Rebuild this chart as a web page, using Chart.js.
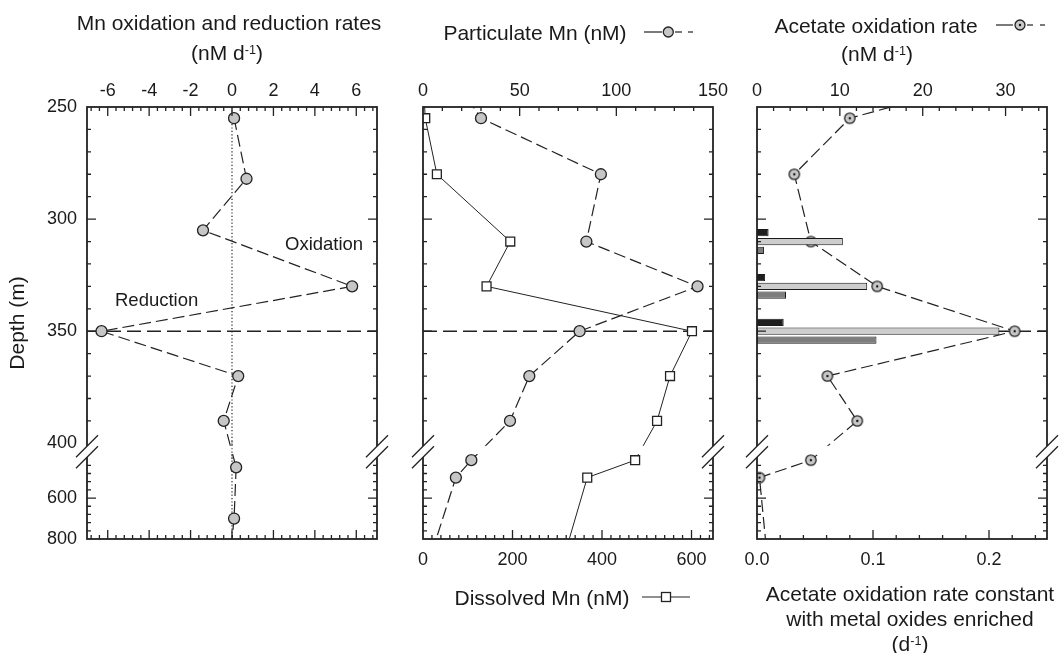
<!DOCTYPE html>
<html>
<head>
<meta charset="utf-8">
<script src="https://cdn.jsdelivr.net/npm/chart.js@4.4.1/dist/chart.umd.min.js"></script>
<style>
  html, body { margin: 0; padding: 0; background: #fff; }
  #wrap { position: relative; width: 1062px; height: 653px; overflow: hidden;
          font-family: "Liberation Sans", Arial, sans-serif; color: #1a1a1a; }
  canvas { position: absolute; top: 0; }
  .lbl { position: absolute; transform: translate(-50%, -50%); white-space: nowrap; font-size: 21px; line-height: 1; }
  .lbl sup { font-size: 0.6em; position: relative; top: -0.45em; vertical-align: baseline; }
  .note { position: absolute; transform: translateY(-50%); white-space: nowrap; font-size: 18.5px; line-height: 1; }
  .sym { position: absolute; }
</style>
</head>
<body>
<div id="wrap">
  <canvas id="c1" width="397" height="653" style="left:0;width:397px;height:653px"></canvas>
  <canvas id="c2" width="336" height="653" style="left:397px;width:336px;height:653px"></canvas>
  <canvas id="c3" width="329" height="653" style="left:733px;width:329px;height:653px"></canvas>

  <div class="lbl" style="left:229px;top:22px">Mn oxidation and reduction rates</div>
  <div class="lbl" style="left:227px;top:52px">(nM d<sup>-1</sup>)</div>
  <div class="lbl" style="left:535px;top:32px">Particulate Mn (nM)</div>
  <div class="lbl" style="left:876px;top:25px">Acetate oxidation rate</div>
  <div class="lbl" style="left:877px;top:53px">(nM d<sup>-1</sup>)</div>
  <div class="lbl" style="left:542px;top:597px">Dissolved Mn (nM)</div>
  <div class="lbl" style="left:910px;top:593px">Acetate oxidation rate constant</div>
  <div class="lbl" style="left:910px;top:618px">with metal oxides enriched</div>
  <div class="lbl" style="left:910px;top:643px">(d<sup>-1</sup>)</div>
  <div class="note" style="left:285px;top:244px">Oxidation</div>
  <div class="note" style="left:115px;top:300px">Reduction</div>

  <svg class="sym" style="left:640px;top:24px" width="56" height="16">
    <line x1="4" y1="8" x2="22" y2="8" stroke="#222" stroke-width="1.2"/>
    <line x1="35" y1="8" x2="42" y2="8" stroke="#222" stroke-width="1.2"/>
    <line x1="48" y1="8" x2="53" y2="8" stroke="#222" stroke-width="1.2"/>
    <circle cx="28.3" cy="8" r="5" fill="#c6c6c6" stroke="#222" stroke-width="1.3"/>
  </svg>
  <svg class="sym" style="left:992px;top:17px" width="56" height="16">
    <line x1="4" y1="8" x2="21" y2="8" stroke="#222" stroke-width="1.2"/>
    <line x1="35" y1="8" x2="41" y2="8" stroke="#222" stroke-width="1.2"/>
    <line x1="48" y1="8" x2="53" y2="8" stroke="#222" stroke-width="1.2"/>
    <circle cx="28" cy="8" r="5" fill="#c8c8c8" stroke="#222" stroke-width="1.3"/>
    <circle cx="28" cy="8" r="1.2" fill="#111"/>
  </svg>
  <svg class="sym" style="left:638px;top:589px" width="56" height="16">
    <line x1="4" y1="8" x2="52" y2="8" stroke="#222" stroke-width="1.2"/>
    <rect x="23.5" y="3.5" width="9" height="9" fill="#fff" stroke="#222" stroke-width="1.3"/>
  </svg>
</div>

<script>
// ---- data (depth in m) ----
// Mn oxidation (+) and reduction (-) rates, nM d-1
var rateDepth = [255, 282, 305, 330, 350, 370, 390, 450, 700, 1000];
var mnRate = [0.1, 0.7, -1.4, 5.8, -6.3, 0.3, -0.4, 0.2, 0.1, -0.2];

// particulate and dissolved Mn, nM
var mnDepth = [240, 255, 280, 310, 330, 350, 370, 390, 415, 500, 1000];
var particulateMn = [18, 30, 92, 84.5, 142, 81, 55, 45, 25, 17, 0];
var dissolvedMn = [1, 5, 31, 195, 142, 601, 552, 523, 474, 367, 300];

// acetate oxidation rate, nM d-1
var acDepth = [240, 255, 280, 310, 330, 350, 370, 390, 415, 500, 1000];
var acetateRate = [26, 11.2, 4.5, 6.5, 14.5, 31.1, 8.5, 12.1, 6.5, 0.3, 1.5];

// acetate oxidation rate constants with metal oxides enriched, d-1
var barDepth = [310, 330, 350];
var kBlack = [0.010, 0.007, 0.023];
var kLight = [0.074, 0.095, 0.209];
var kDark = [0.006, 0.025, 0.103];

// tick labels
var depthTicks = [250, 300, 350, 400, 600, 800];
var rateTicks = [-6, -4, -2, 0, 2, 4, 6];
var particulateTicks = [0, 50, 100, 150];
var dissolvedTicks = [0, 200, 400, 600];
var acetateTicks = [0, 10, 20, 30];
var kTicks = [0, 0.1, 0.2];

// ---- broken depth axis: 250-400 m stretched, 400-800 m squeezed ----
var BREAK = 400, GAP_U = 6.15, LOWER_K = 0.0913;
function toU(d) { return d <= BREAK ? d : BREAK + GAP_U + (d - BREAK) * LOWER_K; }
function fromU(u) {
  if (u <= BREAK) return u;
  return BREAK + Math.max(u - BREAK - GAP_U, 0) / LOWER_K;
}

class BrokenDepthScale extends Chart.LinearScale {
  getPixelForValue(v) { return super.getPixelForValue(toU(v)); }
  getValueForPixel(p) { return fromU(super.getValueForPixel(p)); }
  lowerStartPixel() { return super.getPixelForValue(BREAK + GAP_U); }
}
BrokenDepthScale.id = 'brokenDepth';
BrokenDepthScale.defaults = Chart.LinearScale.defaults;
Chart.register(BrokenDepthScale);

Chart.defaults.font.family = '"Liberation Sans", Arial, sans-serif';
Chart.defaults.color = '#1a1a1a';
Chart.defaults.animation = false;

function pairs(xs, ys) {
  return ys.map(function (d, i) { return {x: xs[i], y: d}; });
}
function steps(a, b, step) {
  var out = [];
  for (var v = a; v <= b + 1e-9; v += step) out.push(Math.round(v * 1e6) / 1e6);
  return out;
}
function fixedTicks(values) {
  return function (s) { s.ticks = values.map(function (v) { return {value: v}; }); };
}
function fixHeight(h) {
  return function (s) { s.height = h; s.paddingLeft = 0; s.paddingRight = 0; };
}
function fixWidth(w) {
  return function (s) { s.width = w; s.paddingTop = 0; s.paddingBottom = 0; };
}

var yMajor = [300, 350, 600];
var yMinor = steps(260, 390, 10).concat([440, 480, 520, 560, 640, 680, 720, 760]);

// frame, inward ticks, axis break and reference lines
var framePlugin = {
  id: 'frame',
  beforeDatasetsDraw: function (chart, args, o) {
    var ctx = chart.ctx, a = chart.chartArea, s = chart.scales;
    var y350 = s.y.getPixelForValue(350);
    ctx.save();
    ctx.strokeStyle = '#222';
    ctx.lineWidth = 1.5;
    ctx.setLineDash([14, 6]);
    ctx.beginPath(); ctx.moveTo(a.left, y350); ctx.lineTo(a.right, y350); ctx.stroke();
    if (o.zeroLine) {
      var x0 = s.x2.getPixelForValue(0);
      ctx.lineWidth = 1.2;
      ctx.setLineDash([1.2, 2.2]);
      ctx.beginPath(); ctx.moveTo(x0, a.top); ctx.lineTo(x0, a.bottom); ctx.stroke();
    }
    ctx.restore();
  },
  afterDatasetsDraw: function (chart, args, o) {
    var ctx = chart.ctx, a = chart.chartArea, s = chart.scales;
    var yA = s.y.getPixelForValue(BREAK), yB = s.y.lowerStartPixel();
    ctx.save();
    // gap in the data lines at the break
    ctx.fillStyle = '#fff';
    ctx.fillRect(a.left + 1, yA + 2.5, a.right - a.left - 2, (yB - 3) - (yA + 2.5));
    if (o.zeroLine) {
      var x0 = s.x2.getPixelForValue(0);
      ctx.strokeStyle = '#333'; ctx.lineWidth = 1.2; ctx.setLineDash([1.2, 2.2]);
      ctx.beginPath(); ctx.moveTo(x0, yA - 2); ctx.lineTo(x0, yB + 2); ctx.stroke();
      ctx.setLineDash([]);
    }
    // frame
    ctx.strokeStyle = '#222';
    ctx.lineWidth = 1.8;
    ctx.strokeRect(a.left, a.top, a.right - a.left, a.bottom - a.top);
    // inward ticks
    ctx.lineWidth = 1.3;
    ctx.beginPath();
    function xTicksOne(scale, list, len, top) {
      list.forEach(function (v) {
        var px = scale.getPixelForValue(v);
        if (px <= a.left + 1 || px >= a.right - 1) return;
        if (top) { ctx.moveTo(px, a.top); ctx.lineTo(px, a.top + len); }
        else { ctx.moveTo(px, a.bottom); ctx.lineTo(px, a.bottom - len); }
      });
    }
    xTicksOne(s.x2, o.topMinor, 4, true);
    xTicksOne(s.x2, o.topMajor, 9, true);
    xTicksOne(s.x, o.botMinor, 4, false);
    xTicksOne(s.x, o.botMajor, 9, false);
    [[yMinor, 4], [yMajor, 9]].forEach(function (t) {
      t[0].forEach(function (d) {
        var py = s.y.getPixelForValue(d);
        ctx.moveTo(a.left, py); ctx.lineTo(a.left + t[1], py);
        ctx.moveTo(a.right, py); ctx.lineTo(a.right - t[1], py);
      });
    });
    ctx.stroke();
    // break marks on both side axes
    var yc = (yA + yB) / 2 + 1.5;
    [a.left, a.right].forEach(function (x) {
      ctx.fillStyle = '#fff';
      ctx.beginPath();
      ctx.moveTo(x - 5, yc - 5.5 + 5); ctx.lineTo(x + 5, yc - 5.5 - 5);
      ctx.lineTo(x + 5, yc + 5.5 - 5); ctx.lineTo(x - 5, yc + 5.5 + 5);
      ctx.closePath(); ctx.fill();
      ctx.strokeStyle = '#222'; ctx.lineWidth = 1.3;
      ctx.beginPath();
      ctx.moveTo(x - 11, yc - 5.5 + 11); ctx.lineTo(x + 11, yc - 5.5 - 11);
      ctx.moveTo(x - 11, yc + 5.5 + 11); ctx.lineTo(x + 11, yc + 5.5 - 11);
      ctx.stroke();
    });
    ctx.restore();
  }
};

function dotCircle() {
  var c = document.createElement('canvas');
  c.width = 14; c.height = 14;
  var g = c.getContext('2d');
  g.beginPath(); g.arc(7, 7, 5.2, 0, Math.PI * 2);
  g.fillStyle = '#c8c8c8'; g.fill();
  g.lineWidth = 1.3; g.strokeStyle = '#222'; g.stroke();
  g.beginPath(); g.arc(7, 7, 1.2, 0, Math.PI * 2);
  g.fillStyle = '#111'; g.fill();
  return c;
}

function scalesFor(opt) {
  return {
    x2: {
      type: 'linear', position: 'top', min: opt.topMin, max: opt.topMax, offset: false,
      grid: {display: false, drawTicks: false, offset: false}, border: {display: false},
      ticks: {font: {size: 18}, padding: 5.5, maxRotation: 0, autoSkip: false, callback: opt.topFmt},
      afterBuildTicks: fixedTicks(opt.topTicks), afterFit: fixHeight(107)
    },
    x: {
      type: 'linear', position: 'bottom', min: opt.botMin, max: opt.botMax, offset: false,
      grid: {display: false, drawTicks: false, offset: false}, border: {display: false},
      ticks: {display: opt.botLabels, font: {size: 18}, padding: 10.2, maxRotation: 0, autoSkip: false, callback: opt.botFmt},
      afterBuildTicks: fixedTicks(opt.botTicks), afterFit: fixHeight(114)
    },
    y: {
      type: 'brokenDepth', position: 'left', reverse: true, min: 250, max: toU(800), offset: false,
      grid: {display: false, drawTicks: false, offset: false}, border: {display: false},
      ticks: {display: opt.yLabels, font: {size: 18}, padding: 10, autoSkip: false},
      title: {display: opt.yLabels, text: 'Depth (m)', font: {size: 21}, padding: {top: 6, bottom: 0}},
      afterBuildTicks: fixedTicks(depthTicks), afterFit: fixWidth(opt.yWidth)
    }
  };
}

function num(v) { return String(v); }

// panel 1: Mn oxidation and reduction rates
new Chart(document.getElementById('c1'), {
  type: 'line',
  data: {
    datasets: [{
      data: pairs(mnRate, rateDepth), xAxisID: 'x2', yAxisID: 'y',
      borderColor: '#222', borderWidth: 1.2, borderDash: [12, 5], tension: 0, fill: false,
      pointRadius: 5.5, pointBackgroundColor: '#c6c6c6', pointBorderColor: '#222', pointBorderWidth: 1.3
    }]
  },
  options: {
    responsive: false, events: [],
    layout: {padding: {left: 0, right: 20, top: 0, bottom: 0}},
    plugins: {legend: {display: false}, tooltip: {enabled: false},
      frame: {zeroLine: true, topMajor: rateTicks, topMinor: steps(-6.8, 6.8, 0.4),
              botMajor: rateTicks, botMinor: steps(-6.8, 6.8, 0.4)}},
    scales: scalesFor({topMin: -7, topMax: 7, topTicks: rateTicks, topFmt: num,
      botMin: -7, botMax: 7, botTicks: rateTicks, botLabels: false, botFmt: num, yLabels: true, yWidth: 87})
  },
  plugins: [framePlugin]
});

// panel 2: particulate (top axis) and dissolved (bottom axis) Mn
new Chart(document.getElementById('c2'), {
  type: 'line',
  data: {
    datasets: [{
      data: pairs(particulateMn, mnDepth), xAxisID: 'x2', yAxisID: 'y',
      borderColor: '#222', borderWidth: 1.2, borderDash: [12, 5], tension: 0, fill: false,
      pointRadius: 5.5, pointBackgroundColor: '#c6c6c6', pointBorderColor: '#222', pointBorderWidth: 1.3
    }, {
      data: pairs(dissolvedMn, mnDepth), xAxisID: 'x', yAxisID: 'y',
      borderColor: '#222', borderWidth: 1, tension: 0, fill: false,
      pointStyle: 'rect', pointRadius: 6.3, pointBackgroundColor: '#fff', pointBorderColor: '#222', pointBorderWidth: 1.3
    }]
  },
  options: {
    responsive: false, events: [],
    layout: {padding: {left: 0, right: 20, top: 0, bottom: 0}},
    plugins: {legend: {display: false}, tooltip: {enabled: false},
      frame: {topMajor: particulateTicks, topMinor: steps(0, 150, 10),
              botMajor: dissolvedTicks, botMinor: steps(0, 640, 20)}},
    scales: scalesFor({topMin: 0, topMax: 150, topTicks: particulateTicks, topFmt: num,
      botMin: 0, botMax: 648, botTicks: dissolvedTicks, botLabels: true, botFmt: num, yLabels: false, yWidth: 26})
  },
  plugins: [framePlugin]
});

// panel 3: rate constants (bars, bottom axis) and acetate oxidation rate (top axis)
var barStyle = {xAxisID: 'x', yAxisID: 'y', type: 'bar', indexAxis: 'y', order: 0,
  borderWidth: 1, borderColor: '#1a1a1a', borderSkipped: false,
  categoryPercentage: 0.645, barPercentage: 0.82};
new Chart(document.getElementById('c3'), {
  type: 'line',
  data: {
    datasets: [
      Object.assign({data: pairs(kBlack, barDepth), backgroundColor: '#1e1e1e'}, barStyle),
      Object.assign({data: pairs(kLight, barDepth), backgroundColor: '#cdcdcd'}, barStyle),
      Object.assign({data: pairs(kDark, barDepth), backgroundColor: '#7d7d7d'}, barStyle),
      {
        data: pairs(acetateRate, acDepth), xAxisID: 'x2', yAxisID: 'y', indexAxis: 'x', order: 10,
        borderColor: '#222', borderWidth: 1.2, borderDash: [12, 5], tension: 0, fill: false,
        pointStyle: dotCircle(), pointRadius: 6
      }
    ]
  },
  options: {
    responsive: false, events: [], indexAxis: 'y',
    layout: {padding: {left: 0, right: 15, top: 0, bottom: 0}},
    plugins: {legend: {display: false}, tooltip: {enabled: false},
      frame: {topMajor: acetateTicks, topMinor: steps(0, 34, 2),
              botMajor: kTicks, botMinor: steps(0, 0.24, 0.02)}},
    scales: scalesFor({topMin: 0, topMax: 35, topTicks: acetateTicks, topFmt: num,
      botMin: 0, botMax: 0.25, botTicks: kTicks, botLabels: true, botFmt: function (v) { return v.toFixed(1); },
      yLabels: false, yWidth: 24})
  },
  plugins: [framePlugin]
});
</script>
</body>
</html>
